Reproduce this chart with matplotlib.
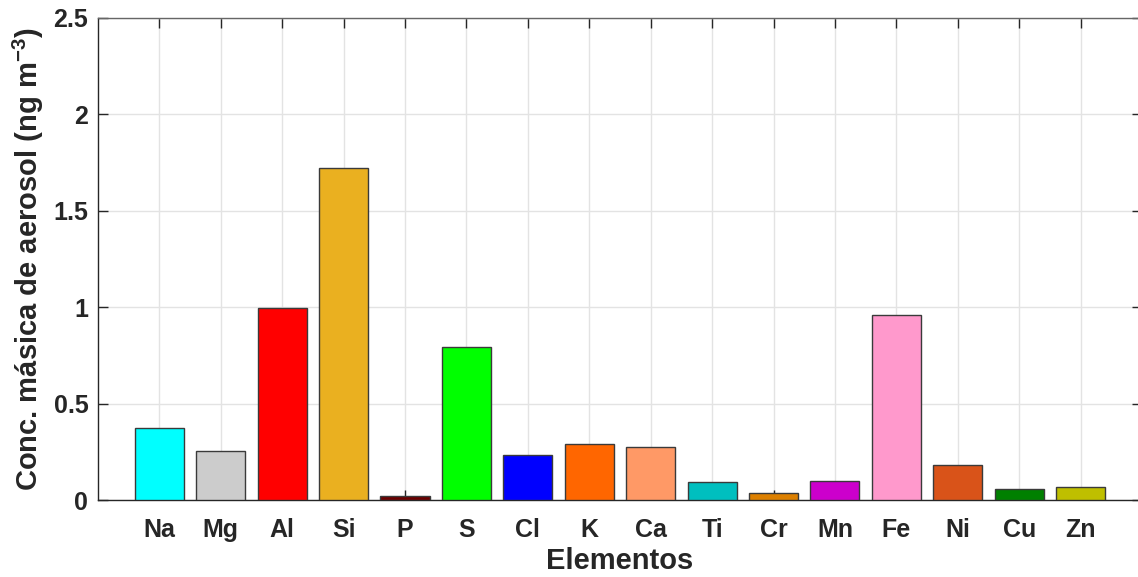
import matplotlib.pyplot as plt

plt.rcParams["font.family"] = ["Liberation Sans", "DejaVu Sans"]
plt.rcParams["font.weight"] = "bold"
plt.rcParams["mathtext.fontset"] = "custom"
plt.rcParams["mathtext.bf"] = "Liberation Sans:bold"
plt.rcParams["mathtext.rm"] = "Liberation Sans:bold"
plt.rcParams["mathtext.default"] = "bf"

elements = ["Na", "Mg", "Al", "Si", "P", "S", "Cl", "K", "Ca", "Ti",
            "Cr", "Mn", "Fe", "Ni", "Cu", "Zn"]
conc = [0.376, 0.255, 0.996, 1.723, 0.021, 0.793, 0.235, 0.292, 0.276,
        0.093, 0.039, 0.098, 0.960, 0.183, 0.057, 0.067]
colors = ["#00FFFF", "#CCCCCC", "#FF0000", "#EAB020", "#6A0000", "#00FF00",
          "#0000FF", "#FF6600", "#FF9966", "#00BFBF", "#DD8000", "#CC00CC",
          "#FF99CC", "#D95319", "#008000", "#BFBF00"]
yticks = [0, 0.5, 1, 1.5, 2, 2.5]
ytick_labels = ["0", "0.5", "1", "1.5", "2", "2.5"]

fig = plt.figure(figsize=(11.38, 5.77), dpi=100)
ax = fig.add_axes([0.0861, 0.1329, 0.9174, 0.8364])

pos = list(range(1, len(elements) + 1))
ax.bar(pos, conc, width=0.8, color=colors, edgecolor="#3A3A3A",
       linewidth=1.0, zorder=3)

ax.set_xlim(0, 17)
ax.set_ylim(0, 2.5)
ax.set_xticks(pos)
ax.set_xticklabels(elements)
ax.set_yticks(yticks)
ax.set_yticklabels(ytick_labels)

ax.grid(True, color="#E3E3E3", linewidth=1.0, zorder=0)
ax.set_axisbelow(True)
ax.tick_params(direction="in", length=7.5, width=1.0, color="#262626",
               labelsize=18, labelcolor="#262626", top=True, right=True)
ax.tick_params(axis="x", pad=13)
ax.tick_params(axis="y", pad=7)
for s in ax.spines.values():
    s.set_color("#262626")
    s.set_linewidth(1.0)
ax.spines["top"].set_color("#666666")

ax.set_xlabel("Elementos", fontsize=21, fontweight="bold", color="#262626",
              labelpad=3)
ax.set_ylabel("Conc. másica de aerosol (ng m$^{-3}$)", fontsize=21,
              fontweight="bold", color="#262626", labelpad=5)

fig.savefig("out.png", dpi=100)
